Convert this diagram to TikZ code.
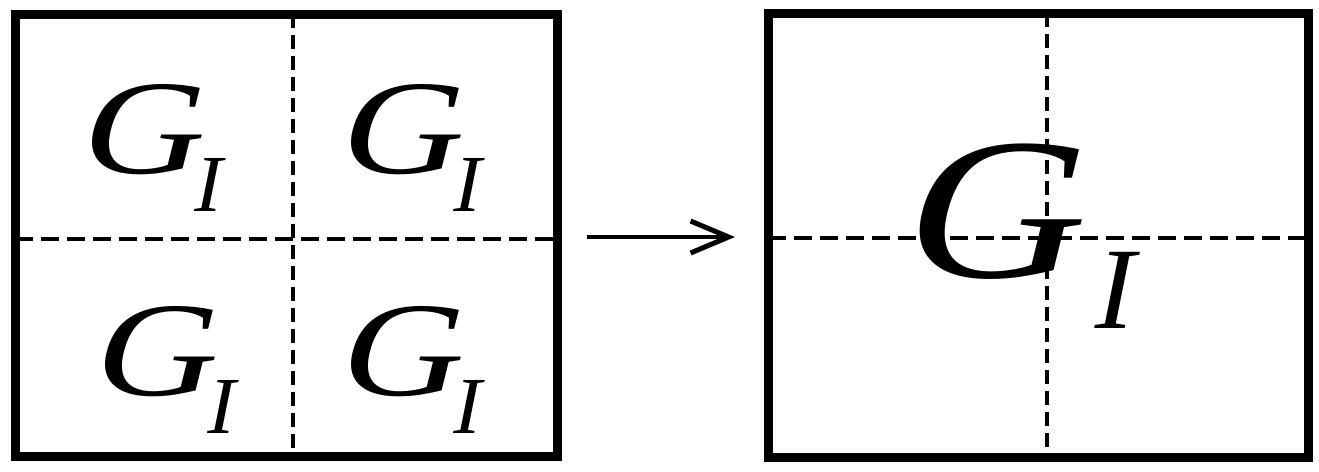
\documentclass[tikz,border=0pt]{standalone}
\usepackage{fontspec}
\setmainfont{Liberation Serif}
\newfontfamily\slfont{Liberation Serif}[FakeSlant=0.2]
\usepackage{graphicx}
\usetikzlibrary{arrows.meta}
\newcommand{\gsubi}[5]{\scalebox{#2}[1]{\fontsize{#1}{#1}\selectfont\slfont G}\kern#4pt\raisebox{#5pt}{\fontsize{#3}{#3}\selectfont\slfont I}}
\tikzset{
  frame/.style={line width=9pt},
  grid/.style={line width=4.5pt},
  vdash/.style={grid, dash pattern=on 14pt off 7pt},
  hdash/.style={grid, dash pattern=on 18pt off 8pt},
  lbl/.style={anchor=base west, inner sep=0pt},
  arr/.style={line width=4.5pt, -{Straight Barb[length=38pt,width=32pt,line width=5pt]}}
}
\begin{document}
\begin{tikzpicture}[x=1pt,y=-1pt]
\useasboundingbox (0,0) rectangle (1319,471);
% left panel
\draw[vdash] (293,14) -- (293,456);
\draw[hdash] (15,239) -- (557,239);
\draw[frame] (15,14) rectangle (557,456);
\node[lbl] (g1) at (76.3,173.5) {\gsubi{134.5}{1.25}{81}{-6.5}{-37.5}};
\node[lbl] (g2) at (335.3,173.5) {\gsubi{134.5}{1.25}{81}{-6.5}{-37.5}};
\node[lbl] (g3) at (89.3,395.5) {\gsubi{134.5}{1.25}{81}{-6.5}{-37.5}};
\node[lbl] (g4) at (335.3,395.5) {\gsubi{134.5}{1.25}{81}{-6.5}{-37.5}};
% arrow
\coordinate (a1) at (587,237);
\coordinate (a2) at (735,237);
\draw[arr] (a1) -- (a2);
% right panel
\node[lbl] (g5) at (895.9,277.4) {\gsubi{201.8}{1.231}{116.4}{15}{-50.6}};
\draw[vdash] (1047,13) -- (1047,457);
\draw[hdash] (768,238) -- (1308,238);
\draw[frame] (768,13) rectangle (1308,457);
\end{tikzpicture}
\end{document}
